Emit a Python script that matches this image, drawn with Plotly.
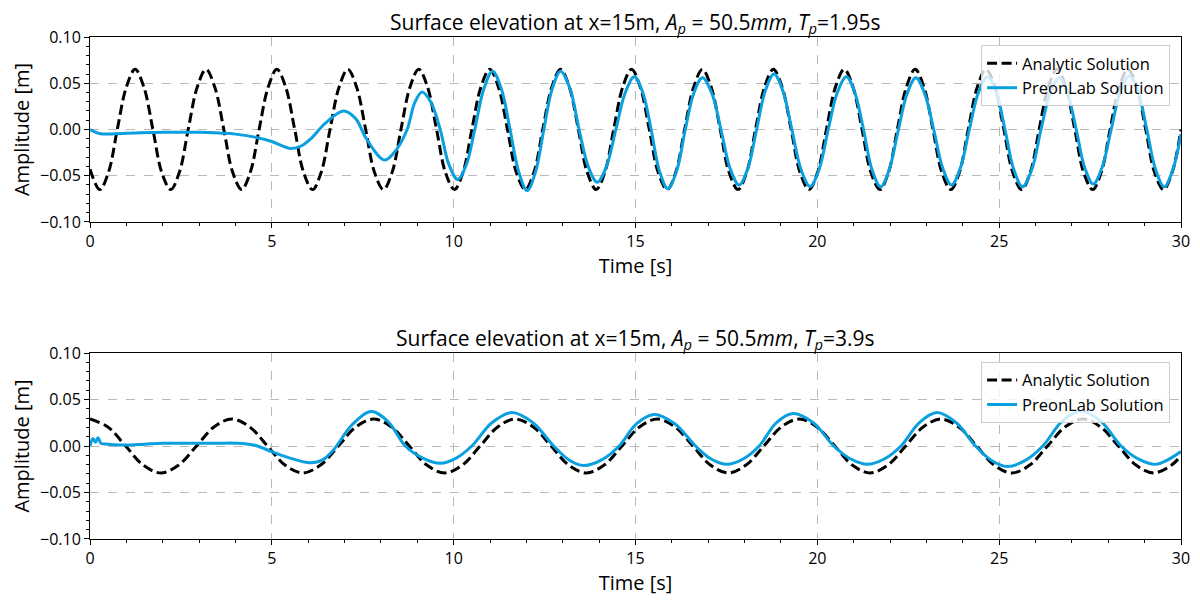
import plotly.graph_objects as go

# ---------------- data ----------------
# Top panel: Tp = 1.95 s
t_ana_top = [0.0,
    0.27, 0.51, 0.75, 1.00, 1.24, 1.48, 1.73, 1.97,
    2.22, 2.46, 2.70, 2.95, 3.19, 3.43, 3.68, 3.92,
    4.17, 4.41, 4.65, 4.90, 5.14, 5.38, 5.63, 5.87,
    6.12, 6.36, 6.60, 6.85, 7.09, 7.33, 7.58, 7.82,
    8.07, 8.31, 8.55, 8.80, 9.04, 9.28, 9.53, 9.77,
    10.02, 10.26, 10.50, 10.75, 10.99, 11.23, 11.48, 11.72,
    11.97, 12.21, 12.45, 12.70, 12.94, 13.18, 13.43, 13.67,
    13.92, 14.16, 14.40, 14.65, 14.89, 15.13, 15.38, 15.62,
    15.87, 16.11, 16.35, 16.60, 16.84, 17.08, 17.33, 17.57,
    17.82, 18.06, 18.30, 18.55, 18.79, 19.03, 19.28, 19.52,
    19.77, 20.01, 20.25, 20.50, 20.74, 20.98, 21.23, 21.47,
    21.72, 21.96, 22.20, 22.45, 22.69, 22.93, 23.18, 23.42,
    23.67, 23.91, 24.15, 24.40, 24.64, 24.88, 25.13, 25.37,
    25.62, 25.86, 26.10, 26.35, 26.59, 26.83, 27.08, 27.32,
    27.57, 27.81, 28.05, 28.30, 28.54, 28.78, 29.03, 29.27,
    29.52, 29.76, 30.00]
eta_ana_top = [-0.043,
    -0.065, -0.046, 0.0, 0.046, 0.065, 0.046, 0.0, -0.046,
    -0.065, -0.046, 0.0, 0.046, 0.065, 0.046, 0.0, -0.046,
    -0.065, -0.046, 0.0, 0.046, 0.065, 0.046, 0.0, -0.046,
    -0.065, -0.046, 0.0, 0.046, 0.065, 0.046, 0.0, -0.046,
    -0.065, -0.046, 0.0, 0.046, 0.065, 0.046, 0.0, -0.046,
    -0.065, -0.046, 0.0, 0.046, 0.065, 0.046, 0.0, -0.046,
    -0.065, -0.046, 0.0, 0.046, 0.065, 0.046, 0.0, -0.046,
    -0.065, -0.046, 0.0, 0.046, 0.065, 0.046, 0.0, -0.046,
    -0.065, -0.046, 0.0, 0.046, 0.065, 0.046, 0.0, -0.046,
    -0.065, -0.046, 0.0, 0.046, 0.065, 0.046, 0.0, -0.046,
    -0.065, -0.046, 0.0, 0.046, 0.065, 0.046, 0.0, -0.046,
    -0.065, -0.046, 0.0, 0.046, 0.065, 0.046, 0.0, -0.046,
    -0.065, -0.046, 0.0, 0.046, 0.065, 0.046, 0.0, -0.046,
    -0.065, -0.046, 0.0, 0.046, 0.065, 0.046, 0.0, -0.046,
    -0.065, -0.046, 0.0, 0.046, 0.065, 0.046, 0.0, -0.046,
    -0.065, -0.046, 0.0]

t_pre_top = [0, 0.28, 1.0, 2.0, 3.0, 3.6, 4.0, 4.5, 5.0, 5.5,
    5.8, 6.1, 6.45, 6.97, 7.3, 7.6,
    8.1, 8.42, 8.72, 8.93, 9.13, 9.38, 9.63, 9.87,
    10.11, 10.35, 10.58, 10.83, 11.07, 11.31, 11.55, 11.79,
    12.02, 12.25, 12.48, 12.71, 12.94, 13.2, 13.45, 13.7,
    13.95, 14.2, 14.46, 14.72, 14.97, 15.2, 15.43, 15.66,
    15.89, 16.13, 16.37, 16.6, 16.84, 17.1, 17.35, 17.6,
    17.85, 18.09, 18.33, 18.57, 18.81, 19.05, 19.3, 19.55,
    19.8, 20.05, 20.3, 20.55, 20.8, 21.03, 21.27, 21.5,
    21.74, 21.98, 22.23, 22.47, 22.71, 22.95, 23.2, 23.45,
    23.69, 23.93, 24.18, 24.43, 24.68, 24.92, 25.16, 25.4,
    25.64, 25.9, 26.15, 26.4, 26.65, 26.88, 27.12, 27.35,
    27.59, 27.83, 28.08, 28.33, 28.58, 28.82, 29.06, 29.3,
    29.54, 29.78, 30.0]
eta_pre_top = [0.0, -0.0045, -0.004, -0.003, -0.003, -0.004, -0.005, -0.008, -0.013, -0.0205,
    -0.018, -0.009, 0.006, 0.020, 0.012, -0.010,
    -0.033, -0.022, 0.0, 0.029, 0.0405, 0.029, 0.0, -0.038,
    -0.054, -0.038, 0.0, 0.044, 0.063, 0.044, 0.0, -0.046,
    -0.066, -0.046, 0.0, 0.044, 0.063, 0.044, 0.0, -0.040,
    -0.057, -0.040, 0.0, 0.040, 0.057, 0.040, 0.0, -0.045,
    -0.064, -0.045, 0.0, 0.039, 0.056, 0.039, 0.0, -0.042,
    -0.060, -0.042, 0.0, 0.042, 0.060, 0.042, 0.0, -0.043,
    -0.0615, -0.043, 0.0, 0.040, 0.057, 0.040, 0.0, -0.043,
    -0.062, -0.043, 0.0, 0.039, 0.056, 0.039, 0.0, -0.042,
    -0.060, -0.042, 0.0, 0.040, 0.057, 0.040, 0.0, -0.043,
    -0.062, -0.043, 0.0, 0.039, 0.056, 0.039, 0.0, -0.041,
    -0.059, -0.041, 0.0, 0.041, 0.058, 0.041, 0.0, -0.043,
    -0.062, -0.043, -0.005]

# Bottom panel: Tp = 3.9 s
t_ana_bot = [0.0, 0.49, 0.98, 1.46, 1.95, 2.44, 2.93, 3.41,
    3.9, 4.39, 4.88, 5.36, 5.85, 6.34, 6.83, 7.31,
    7.8, 8.29, 8.78, 9.26, 9.75, 10.24, 10.73, 11.21,
    11.7, 12.19, 12.68, 13.16, 13.65, 14.14, 14.63, 15.11,
    15.6, 16.09, 16.58, 17.06, 17.55, 18.04, 18.53, 19.01,
    19.5, 19.99, 20.48, 20.96, 21.45, 21.94, 22.43, 22.91,
    23.4, 23.89, 24.38, 24.86, 25.35, 25.84, 26.33, 26.81,
    27.3, 27.79, 28.28, 28.76, 29.25, 29.74, 30.0]
eta_ana_bot = [0.029, 0.0205, 0.0, -0.0205, -0.029, -0.0205, 0.0, 0.0205,
    0.029, 0.0205, 0.0, -0.0205, -0.029, -0.0205, 0.0, 0.0205,
    0.029, 0.0205, 0.0, -0.0205, -0.029, -0.0205, 0.0, 0.0205,
    0.029, 0.0205, 0.0, -0.0205, -0.029, -0.0205, 0.0, 0.0205,
    0.029, 0.0205, 0.0, -0.0205, -0.029, -0.0205, 0.0, 0.0205,
    0.029, 0.0205, 0.0, -0.0205, -0.029, -0.0205, 0.0, 0.0205,
    0.029, 0.0205, 0.0, -0.0205, -0.029, -0.0205, 0.0, 0.0205,
    0.029, 0.0205, 0.0, -0.0205, -0.029, -0.0205, -0.0104]

t_pre_bot = [0, 0.08, 0.15, 0.22, 0.3, 0.5, 1.0, 1.5, 2.0, 2.5, 3.0,
    3.5, 4.0, 4.5, 5.0, 5.5, 6.05, 6.4, 6.7, 7.2,
    7.73, 8.2, 8.67, 9.15, 9.63, 10.07, 10.5, 11.05,
    11.6, 12.18, 12.75, 13.17, 13.58, 14.07, 14.55, 15.03,
    15.51, 16.08, 16.65, 17.08, 17.52, 17.96, 18.4, 18.87,
    19.33, 19.89, 20.45, 20.92, 21.38, 21.84, 22.3, 22.8,
    23.29, 23.82, 24.35, 24.79, 25.23, 25.72, 26.2, 26.73,
    27.25, 27.8, 28.35, 28.83, 29.31, 30.0]
eta_pre_bot = [0.0, 0.008, 0.004, 0.009, 0.003, 0.002, 0.001, 0.002, 0.003, 0.003, 0.003,
    0.003, 0.003, 0.001, -0.006, -0.013, -0.018, -0.015, -0.004, 0.0226,
    0.037, 0.026, 0.0, -0.013, -0.0186, -0.013, 0.0, 0.025,
    0.036, 0.025, 0.0, -0.015, -0.021, -0.015, 0.0, 0.024,
    0.034, 0.024, 0.0, -0.014, -0.0197, -0.014, 0.0, 0.025,
    0.035, 0.025, 0.0, -0.014, -0.0197, -0.014, 0.0, 0.025,
    0.036, 0.025, 0.0, -0.0155, -0.022, -0.0155, 0.0, 0.0265,
    0.0376, 0.0265, 0.0, -0.014, -0.0197, -0.006]

series_names = ["Analytic Solution", "PreonLab Solution"]
titles = ["Surface elevation at x=15m, <i>A<sub>p</sub></i> = 50.5<i>mm</i>, <i>T<sub>p</sub></i>=1.95s",
          "Surface elevation at x=15m, <i>A<sub>p</sub></i> = 50.5<i>mm</i>, <i>T<sub>p</sub></i>=3.9s"]
x_ticks = [0, 5, 10, 15, 20, 25, 30]
y_ticks = [-0.10, -0.05, 0.00, 0.05, 0.10]

# ---------------- figure ----------------
FONT = "Open Sans"
BLUE = "#0AA0E0"

fig = go.Figure()

panels = [
    (t_ana_top, eta_ana_top, t_pre_top, eta_pre_top, "x", "y", "legend"),
    (t_ana_bot, eta_ana_bot, t_pre_bot, eta_pre_bot, "x2", "y2", "legend2"),
]
for ta, ea, tp, ep, xa, ya, lg in panels:
    assert len(ta) == len(ea) and len(tp) == len(ep)
    fig.add_trace(go.Scatter(x=ta, y=ea, mode="lines", name=series_names[0],
                             line=dict(color="black", width=3, dash="10px,4.5px",
                                       shape="spline", smoothing=1.0),
                             xaxis=xa, yaxis=ya, legend=lg))
    fig.add_trace(go.Scatter(x=tp, y=ep, mode="lines", name=series_names[1],
                             line=dict(color=BLUE, width=3, shape="spline", smoothing=1.0),
                             xaxis=xa, yaxis=ya, legend=lg))

top_dom = [0.6315, 1.0]
bot_dom = [0.0, 0.3705]

def xaxis_cfg(anchor):
    return dict(domain=[0, 1], anchor=anchor, range=[0, 30], tickvals=x_ticks,
                automargin=False,
                ticks="outside", ticklen=5, tickwidth=1, tickcolor="black",
                showline=True, mirror=True, linecolor="black", linewidth=1,
                showgrid=True, gridcolor="#b8b8b8", griddash="dash", gridwidth=1,
                zeroline=False, tickfont=dict(size=16, family=FONT, color="black"),
                title=dict(text="Time [s]", font=dict(size=20, family=FONT, color="black"), standoff=4),
                minor=dict(dtick=1, ticks="outside", ticklen=3, tickcolor="black", showgrid=False))

def yaxis_cfg(anchor, dom):
    return dict(domain=dom, anchor=anchor, range=[-0.10, 0.10], tickvals=y_ticks,
                tickformat=".2f", automargin=False,
                ticks="outside", ticklen=5, tickwidth=1, tickcolor="black",
                showline=True, mirror=True, linecolor="black", linewidth=1,
                showgrid=True, gridcolor="#b8b8b8", griddash="dash", gridwidth=1,
                zeroline=False, tickfont=dict(size=16, family=FONT, color="black"),
                title=dict(text="Amplitude [m]", font=dict(size=20, family=FONT, color="black"), standoff=6),
                minor=dict(dtick=0.01, ticks="outside", ticklen=3, tickcolor="black", showgrid=False))

legend_common = dict(xanchor="right", yanchor="top", bgcolor="rgba(255,255,255,0.8)",
                     bordercolor="#cccccc", borderwidth=1,
                     font=dict(size=16.5, family=FONT, color="black"),
                     tracegroupgap=0, itemwidth=30)

# the page body has an 8 px margin, so the figure is shrunk by that amount
fig.update_layout(
    width=1192, height=597,
    margin=dict(l=82, r=19, t=29, b=66, autoexpand=False),
    paper_bgcolor="white", plot_bgcolor="white",
    font=dict(family=FONT, color="black"),
    xaxis=xaxis_cfg("y"), yaxis=yaxis_cfg("x", top_dom),
    xaxis2=xaxis_cfg("y2"), yaxis2=yaxis_cfg("x2", bot_dom),
    legend=dict(x=0.99, y=0.984, **legend_common),
    legend2=dict(x=0.99, y=0.353, **legend_common),
    annotations=[
        dict(text=titles[0], x=0.5, y=top_dom[1], xref="paper", yref="paper",
             xanchor="center", yanchor="bottom", yshift=-3, showarrow=False,
             font=dict(size=21, family=FONT, color="black")),
        dict(text=titles[1], x=0.5, y=bot_dom[1], xref="paper", yref="paper",
             xanchor="center", yanchor="bottom", yshift=-3, showarrow=False,
             font=dict(size=21, family=FONT, color="black")),
    ],
)

fig.write_html("out.html")
